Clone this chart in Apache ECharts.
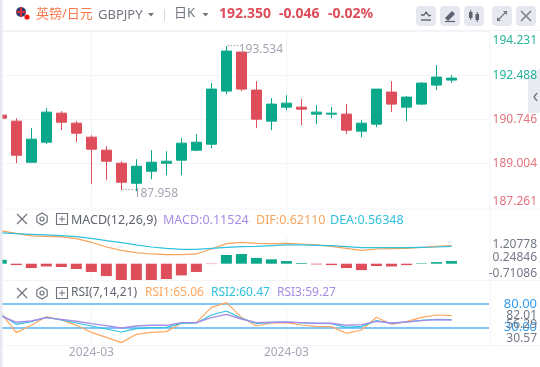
<!DOCTYPE html>
<html><head><meta charset="utf-8">
<style>html,body{margin:0;padding:0;background:#fff}#c{width:540px;height:367px}</style>
<script src="https://cdn.jsdelivr.net/npm/echarts@6/dist/echarts.min.js"></script>
</head><body><div id="c"></div>
<script>
// [open, close, low, high]
var candles=[
[190.916,190.797,190.718,190.995],[190.679,189.333,189.016,190.797],[189.055,189.966,189.055,190.401],
[189.847,191.035,189.768,191.193],[190.995,190.639,190.322,191.075],[190.599,190.204,189.847,190.679],
[190.045,189.570,188.185,190.124],[189.531,189.095,188.343,189.689],[189.016,188.264,187.958,189.095],
[188.224,188.897,187.907,189.174],[188.699,189.055,188.382,189.531],[189.016,189.095,188.541,189.491],
[189.135,189.808,188.541,190.006],[189.531,189.847,189.491,190.164],[189.768,191.945,189.610,192.183],
[191.866,193.450,191.747,193.648],[193.410,191.945,191.866,193.410],[191.906,190.758,190.401,192.262],
[190.679,191.352,190.322,191.589],[191.233,191.391,191.114,191.708],[191.233,191.154,190.520,191.550],
[190.956,191.035,190.560,191.312],[190.956,190.995,190.797,191.233],[190.956,190.322,190.164,191.352],
[190.283,190.599,190.045,190.718],[190.560,191.945,190.441,191.945],[191.827,191.352,191.035,192.262],
[191.233,191.629,190.679,191.668],[191.352,192.183,191.312,192.223],[192.104,192.421,191.906,192.896],
[192.302,192.381,192.183,192.500]];
var macdBars=[0.17,-0.06,-0.19,-0.12,-0.145,-0.23,-0.36,-0.54,-0.71,-0.71,-0.71,-0.67,-0.51,-0.36,-0.015,0.38,0.42,0.25,0.19,0.115,0.03,-0.03,-0.06,-0.19,-0.28,-0.10,-0.12,-0.06,0.02,0.07,0.115];
var dif=[1.428,1.326,1.21,1.195,1.166,1.093,0.933,0.729,0.584,0.482,0.424,0.394,0.394,0.424,0.642,0.875,0.933,0.889,0.875,0.889,0.86,0.817,0.758,0.671,0.584,0.642,0.656,0.671,0.715,0.758,0.787];
var dea=[1.341,1.311,1.282,1.253,1.224,1.18,1.108,1.006,0.918,0.817,0.729,0.671,0.627,0.627,0.671,0.715,0.744,0.758,0.787,0.817,0.817,0.802,0.787,0.744,0.7,0.7,0.7,0.7,0.715,0.729,0.758];
var rsi1=[73.45,47.29,57.21,68.94,64.43,57.21,47.74,40.98,33.76,45.04,47.74,48.65,59.92,60.82,81.57,87.88,68.04,56.31,60.37,60.82,57.67,55.86,55.41,46.39,50.9,68.04,58.57,62.18,68.04,71.2,70.29];
var rsi2=[71.2,58.57,62.18,68.04,64.43,60.37,56.31,52.25,48.19,52.7,54.06,54.51,59.92,60.37,71.2,76.61,66.69,59.92,60.82,61.72,60.37,59.92,59.47,54.51,55.86,63.53,59.92,61.72,63.98,65.33,64.88];
var rsi3=[69.84,61.27,63.08,67.59,65.33,62.63,59.47,56.76,53.61,56.31,57.21,57.21,60.82,60.82,67.59,72.1,65.78,60.82,61.27,61.72,60.82,59.92,59.92,57.21,58.12,62.63,60.37,61.72,63.53,64.88,64.43];
var priceTicks=[194.231,192.488,190.746,189.004,187.261];
var macdTicks=[1.20778,0.24846,-0.71086];
var rsiTicks=[82.01,56.29,30.57];
var rsiBands=[80,30];
var lastPrice=192.35;
var dateIdx=[6,19];
var dateLabel='2024-03';
var highIdx=15,highText='193.534',lowIdx=8,lowText='187.958';
var slots=33;
var cats=[];for(var i=0;i<slots;i++)cats.push(dateIdx.indexOf(i)>=0?dateLabel:'d'+i);

var G='#0aa88a',R='#dd4d5a',LINE='#f3f4f7',FONT='"Noto Sans","Noto Sans CJK SC",sans-serif';
var L=-6.2,W=495.2;
var chart=echarts.init(document.getElementById('c'),null,{renderer:'canvas'});
function xa(gi,show){return {type:'category',gridIndex:gi,data:cats,boundaryGap:true,
  axisLine:{show:false},axisTick:{show:false},splitLine:{show:false},
  axisLabel:{show:show,color:'#a3a8b4',fontSize:12,fontFamily:FONT,margin:2,interval:0,hideOverlap:false,
    formatter:function(v){return v===dateLabel?v:''}}};}
function ya(gi,min,max,ticks,color){return {type:'value',gridIndex:gi,position:'right',min:min,max:max,scale:true,z:45,
  axisLine:{show:false},axisTick:{show:false},splitLine:{show:false},
  axisLabel:{customValues:ticks,inside:false,margin:48,align:'right',fontSize:12,fontFamily:FONT,color:color,padding:[3,0,0,0],
    showMinLabel:true,showMaxLabel:true,hideOverlap:false,verticalAlignMinLabel:'top',verticalAlignMaxLabel:'bottom',
    formatter:function(v){var best=ticks[0];ticks.forEach(function(t){if(Math.abs(t-v)<Math.abs(best-v))best=t});
      return Math.abs(best)>=100?best.toFixed(3):(ticks===macdTicks?best.toFixed(5):best.toFixed(2));}}};}
var priceY=ya(0,187.261,194.231,priceTicks,function(v){return v>lastPrice?'#27b398':'#e2727c'});
var macdY=ya(1,-0.71086,1.20778,macdTicks,'#737885');
var rsiY=ya(2,30.57,82.01,[rsiTicks[0],rsiTicks[2]],'#737885');
var bandY=ya(3,-6.5,120,rsiBands,'#2f9ef5');
bandY.axisLabel.fontSize=13;
delete bandY.axisLabel.verticalAlignMinLabel;delete bandY.axisLabel.verticalAlignMaxLabel;
function vline(xi,yi){return {type:'line',xAxisIndex:xi,yAxisIndex:yi,data:[],silent:true,z:1,
  markLine:{z:1,silent:true,symbol:'none',animation:false,label:{show:false},lineStyle:{color:LINE,width:1,type:'solid'},
    data:dateIdx.map(function(d){return {xAxis:d}})}};}
function ln(name,d,c,xi,yi,w){return {name:name,type:'line',xAxisIndex:xi,yAxisIndex:yi,data:d,symbol:'none',clip:false,z:5,
  lineStyle:{color:c,width:w||1.2},silent:true,animation:false};}

var series=[
 vline(0,0),vline(1,1),vline(2,2),
 {type:'line',xAxisIndex:0,yAxisIndex:0,data:[],silent:true,z:1,
  markLine:{z:1,silent:true,symbol:'none',animation:false,label:{show:false},lineStyle:{color:LINE,width:1,type:'solid'},
    data:priceTicks.map(function(t){return {yAxis:t}})}},
 {name:'K',type:'candlestick',xAxisIndex:0,yAxisIndex:0,data:candles,barWidth:11,z:4,silent:true,animation:false,
  itemStyle:{color:G,color0:R,borderColor:G,borderColor0:R,borderWidth:1}},
 {type:'scatter',xAxisIndex:0,yAxisIndex:0,symbol:'circle',symbolSize:1,itemStyle:{color:'rgba(0,0,0,0)'},silent:true,z:6,animation:false,
  data:[[highIdx,candles[highIdx][3]],[lowIdx,187.958]],
  label:{show:true,position:'right',distance:0,offset:[0,4],
    formatter:function(p){return '{d|\u00b7\u00b7\u00b7\u00b7}{t|'+(p.dataIndex===0?highText:lowText)+'}'},
    rich:{d:{color:'#8a8f9c',fontSize:11,padding:[0,0,8,0],fontFamily:FONT},t:{color:'#8a8f9c',fontSize:12,fontFamily:FONT}}}},
 {name:'MACD',type:'bar',xAxisIndex:1,yAxisIndex:1,barWidth:11,silent:true,z:4,animation:false,
  data:macdBars.map(function(v){return {value:v,itemStyle:{color:v>=0?G:R}}})},
 ln('DIF',dif,'#f5a45f',1,1),ln('DEA',dea,'#2fc1de',1,1),
 {type:'line',xAxisIndex:3,yAxisIndex:3,data:[],silent:true,z:3,
  markLine:{z:3,silent:true,symbol:'none',animation:false,label:{show:false},lineStyle:{color:'#55b3fa',width:1.6,type:'solid'},
    data:rsiBands.map(function(t){return {yAxis:t}})}},
 ln('RSI1',rsi1,'#ffa75f',2,2),ln('RSI2',rsi2,'#2fc1de',2,2),ln('RSI3',rsi3,'#a58de6',2,2,1.4)
];

function T(x,y,s,c,o){o=o||{};return {type:'text',silent:true,z:50,x:x,y:y,style:{text:s,fill:c,font:(o.b?'bold ':'')+(o.s||12)+'px '+FONT,textVerticalAlign:'middle',textAlign:o.a||'left'}};}
function Ln(a,b,c,d,col,w){return {type:'line',silent:true,z:50,shape:{x1:a,y1:b,x2:c,y2:d},style:{stroke:col,lineWidth:w||1,fill:null}};}
function Btn(x){return {type:'rect',silent:true,z:49,shape:{x:x,y:6,width:20,height:20,r:4},style:{fill:'#e6e8ef'}};}
function Caret(x,y,col){return {type:'polygon',silent:true,z:50,shape:{points:[[x-3,y-2],[x+3,y-2],[x,y+1.5]]},style:{fill:col}};}
function Gear(cx,cy){return [{type:'polygon',silent:true,z:50,shape:{points:[[cx,cy-6],[cx+5.2,cy-3],[cx+5.2,cy+3],[cx,cy+6],[cx-5.2,cy+3],[cx-5.2,cy-3]]},style:{fill:null,stroke:'#70747f',lineWidth:1.2}},
  {type:'circle',silent:true,z:50,shape:{cx:cx,cy:cy,r:2},style:{fill:null,stroke:'#70747f',lineWidth:1.2}}];}
function Tools(y){return [Ln(17,y-5,27,y+5,'#70747f',1.2),Ln(27,y-5,17,y+5,'#70747f',1.2)].concat(Gear(42,y),[
  {type:'rect',silent:true,z:50,shape:{x:56.5,y:y-5.5,width:11,height:11},style:{fill:null,stroke:'#70747f',lineWidth:1.1}},
  Ln(59,y,65,y,'#70747f',1),Ln(62,y-3,62,y+3,'#70747f',1)]);}

var gr=[
 {type:'rect',silent:true,z:48,shape:{x:0,y:0,width:2.5,height:367},style:{fill:'#e7e9f1'}},
 {type:'line',silent:true,z:2,shape:{x1:490,y1:30.5,x2:490,y2:345},style:{stroke:LINE}},
 Ln(3,30.5,540,30.5,LINE,1),Ln(3,209,540,209,LINE,1),Ln(3,280.5,540,280.5,LINE,1),Ln(3,345.5,540,345.5,LINE,1),
 {type:'circle',silent:true,z:50,shape:{cx:21,cy:12,r:5},style:{fill:'#2b3a67'}},
 Ln(16.5,12,25.5,12,'#d8303c',2),Ln(21,7,21,17,'#d8303c',2),
 {type:'circle',silent:true,z:51,shape:{cx:27,cy:17,r:2.6},style:{fill:'#f00f0f'}},
 T(36,14,'\u82f1\u9551/\u65e5\u5143','#f87a4c',{s:13}),
 T(98,15,'GBPJPY','#70747f',{s:13}),Caret(151,15,'#70747f'),
 Ln(164.5,9,164.5,21,'#d5d8e0',1),
 T(174,13.5,'\u65e5K','#70747f',{s:13}),Caret(205.5,15,'#70747f'),
 T(219,14,'192.350','#dd4d5a',{b:1,s:14}),T(279,14,'-0.046','#dd4d5a',{b:1,s:14}),T(328,14,'-0.02%','#dd4d5a',{b:1,s:14}),
 Btn(416),Btn(440),Btn(464),Btn(492),Btn(516),
 {type:'polyline',silent:true,z:50,shape:{points:[[421,15],[424,15],[426,12],[429,16],[431,15]]},style:{stroke:'#5d6270',fill:null,lineWidth:1.3}},Ln(421,20,431,20,'#5d6270',1.4),
 {type:'polygon',silent:true,z:50,shape:{points:[[445,18],[452,11],[455,14],[448,21]]},style:{fill:'#5d6270'}},Ln(445,21.5,455,21.5,'#5d6270',1.2),
 {type:'rect',silent:true,z:50,shape:{x:469,y:12,width:3.5,height:6},style:{fill:'#5d6270'}},Ln(470.7,10,470.7,20,'#5d6270',1),
 {type:'rect',silent:true,z:50,shape:{x:475.5,y:14,width:3.5,height:6},style:{fill:'#5d6270'}},Ln(477.2,12,477.2,22,'#5d6270',1),
 {type:'polygon',silent:true,z:50,shape:{points:[[497,21],[497,17],[501,21]]},style:{fill:'#70747f'}},{type:'polygon',silent:true,z:50,shape:{points:[[507,11],[507,15],[503,11]]},style:{fill:'#70747f'}},
 Ln(499,19,505,13,'#70747f',1.1),Ln(521,11,531,21,'#70747f',1.2),Ln(531,11,521,21,'#70747f',1.2),
 {type:'polygon',silent:true,z:3,shape:{points:[[540,68],[528,78],[528,113],[540,113]]},style:{fill:'#e9ebf1'}},
 {type:'polyline',silent:true,z:50,shape:{points:[[537,93],[534,97],[537,101]]},style:{stroke:'#70747f',fill:null,lineWidth:1.3}},
 T(71,220.5,'MACD(12,26,9)','#5f6470',{s:12.5}),
 T(163,220.5,'MACD:0.11524','#a58de6',{s:12.5}),T(256,220.5,'DIF:0.62110','#f5a45f',{s:12.5}),T(330,220.5,'DEA:0.56348','#2fc1de',{s:12.5}),
 T(71,292.5,'RSI(7,14,21)','#5f6470',{s:12}),
 T(145,292.5,'RSI1:65.06','#ffa75f',{s:12}),T(211,292.5,'RSI2:60.47','#2fc1de',{s:12}),T(277,292.5,'RSI3:59.27','#a58de6',{s:12}),
 T(537,324.5,rsiTicks[1].toFixed(2),'#737885',{a:'right'})
].concat(Tools(219),Tools(293));

chart.setOption({animation:false,backgroundColor:'#fff',
 grid:[
  {left:L,width:W,top:31.3,height:176.3,outerBoundsMode:'none'},
  {left:L,width:W,top:236,height:44,outerBoundsMode:'none'},
  {left:L,width:W,top:307,height:38,outerBoundsMode:'none'},
  {left:L,width:W,top:285,height:60,outerBoundsMode:'none'}],
 xAxis:[xa(0,false),xa(1,false),xa(2,true),xa(3,false)],
 yAxis:[priceY,macdY,rsiY,bandY],
 series:series,graphic:{elements:gr}});
</script></body></html>
